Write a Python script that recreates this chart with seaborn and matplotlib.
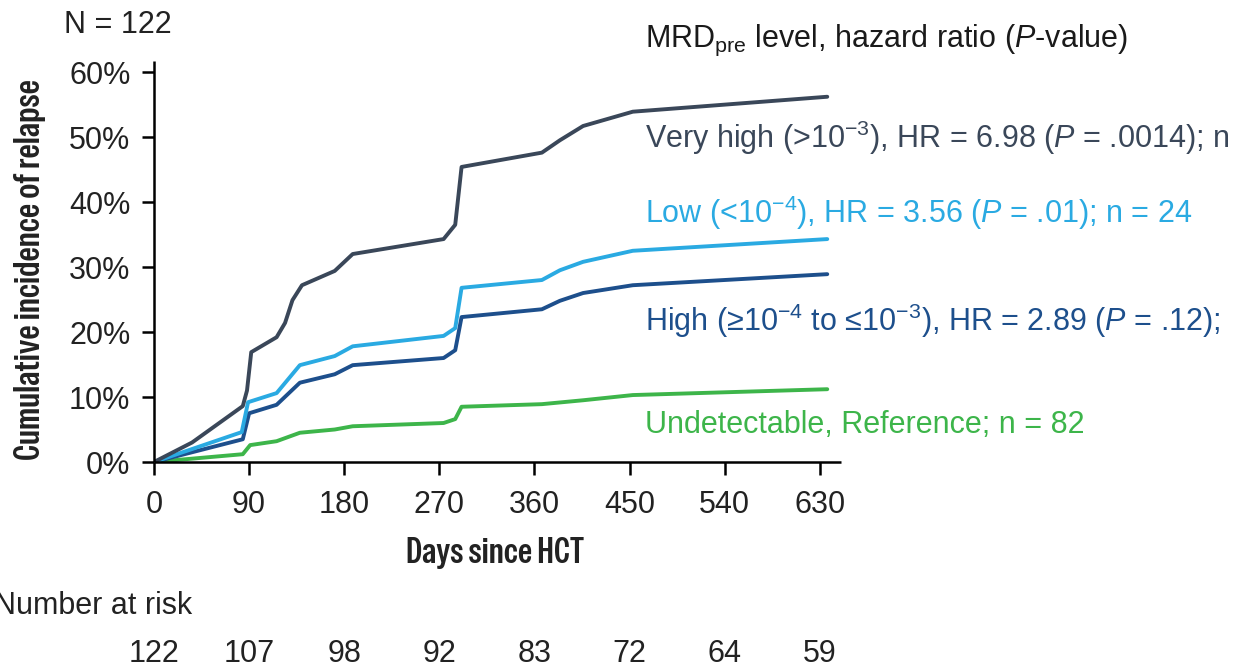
import os
import matplotlib
matplotlib.use("Agg")
import matplotlib.pyplot as plt
import matplotlib.font_manager as fm
from matplotlib.textpath import TextPath
import numpy as np
import pandas as pd
import seaborn as sns

# Cumulative incidence curves (days since HCT, percent relapsed)
days_very_high = [0, 36, 84, 88, 92, 116, 124, 131, 140, 171, 188, 274, 285, 291, 367, 384, 406, 453, 637]
cif_very_high = [0, 3.0, 8.6, 11.0, 16.9, 19.2, 21.4, 24.9, 27.2, 29.4, 32.0, 34.3, 36.5, 45.4, 47.6, 49.5, 51.7, 53.9, 56.2]

days_low = [0, 83, 89, 116, 138, 171, 188, 274, 285, 291, 367, 384, 406, 453, 637]
cif_low = [0, 4.6, 9.2, 10.6, 14.9, 16.3, 17.8, 19.4, 20.6, 26.8, 28.0, 29.5, 30.8, 32.5, 34.3]

days_high = [0, 84, 90, 116, 138, 171, 188, 274, 285, 291, 367, 384, 406, 453, 637]
cif_high = [0, 3.5, 7.5, 8.8, 12.2, 13.5, 14.9, 16.0, 17.2, 22.3, 23.5, 24.8, 26.0, 27.2, 28.9]

days_undetectable = [0, 84, 91, 116, 138, 171, 188, 274, 285, 291, 367, 406, 453, 637]
cif_undetectable = [0, 1.2, 2.6, 3.2, 4.5, 5.0, 5.5, 6.0, 6.6, 8.5, 8.9, 9.5, 10.3, 11.2]

group_names = ["Undetectable", "High", "Low", "Very high"]
group_labels = [
    r"Very high (>10$^{-3}$), HR = 6.98 ($\mathit{P}$ = .0014); n",
    r"Low (<10$^{-4}$), HR = 3.56 ($\mathit{P}$ = .01); n = 24",
    r"High (≥10$^{-4}$ to ≤10$^{-3}$), HR = 2.89 ($\mathit{P}$ = .12);",
    "Undetectable, Reference; n = 82",
]
x_ticks = [0, 90, 180, 270, 360, 450, 540, 630]
y_ticks = [0, 10, 20, 30, 40, 50, 60]
at_risk = [122, 107, 98, 92, 83, 72, 64, 59]

colors = {
    "Very high": "#3a4759",
    "Low": "#2aaae2",
    "High": "#1d4f8c",
    "Undetectable": "#3db54a",
}

frames = []
for name, d, v in [
    ("Undetectable", days_undetectable, cif_undetectable),
    ("High", days_high, cif_high),
    ("Low", days_low, cif_low),
    ("Very high", days_very_high, cif_very_high),
]:
    frames.append(pd.DataFrame({"days": d, "cif": v, "group": name}))
df = pd.concat(frames, ignore_index=True)

sns.set_style("ticks")
base_font = "Liberation Sans"
plt.rcParams["font.family"] = [base_font, "DejaVu Sans"]
plt.rcParams["mathtext.fontset"] = "custom"
plt.rcParams["mathtext.rm"] = base_font
plt.rcParams["mathtext.it"] = base_font + ":italic"
plt.rcParams["mathtext.default"] = "regular"

XLABEL = "Days since HCT"
YLABEL = "Cumulative incidence of relapse"
TITLE_WIDTH_PX = 176      # width of the x-axis title
TITLE_ASPECT = 176 / 25   # title width over cap height
STEM_RATIO = 0.16         # vertical stem width over cap height


def face_metrics(fp):
    """Title width, title aspect and stem weight of a face."""
    w = TextPath((0, 0), XLABEL, size=10, prop=fp).get_extents().width
    h = TextPath((0, 0), "H", size=10, prop=fp).get_extents().height
    stem = TextPath((0, 0), "I", size=10, prop=fp).get_extents().width
    return w / h, stem / h, w


def weight_value(w):
    if isinstance(w, (int, float)):
        return w
    return fm.weight_dict.get(str(w).lower(), 400)


def find_narrow_font():
    """Pick a condensed sans face of ordinary weight for the axis titles."""
    best = None
    for f in fm.fontManager.ttflist:
        name = f.name.lower()
        fname = f.fname.lower()
        base = os.path.basename(fname)
        if fname.endswith((".ttc", ".otc")):
            continue
        narrow = ("condensed" in name or "narrow" in name or "condensed" in base
                  or "narrow" in base
                  or str(f.stretch).lower() in ("condensed", "semi-condensed", "extra-condensed"))
        if not narrow or f.style != "normal":
            continue
        if "mono" in name or "mono" in base:
            continue
        if "serif" in name and "sans" not in name:
            continue
        try:
            fp = fm.FontProperties(fname=f.fname)
            aspect, stem, _ = face_metrics(fp)
        except Exception:
            continue
        score = abs(aspect - TITLE_ASPECT) / TITLE_ASPECT + 1.5 * abs(stem - STEM_RATIO) / STEM_RATIO
        if best is None or score < best[0]:
            best = (score, fp)
    return best[1] if best else fm.FontProperties(family=base_font)


narrow_fp = find_narrow_font()
_, _, w10 = face_metrics(narrow_fp)
label_size = min(26.0, 10 * TITLE_WIDTH_PX / (w10 * 100 / 72))

W, H = 1247, 667
fig = plt.figure(figsize=(W / 100, H / 100), dpi=100)
ax = fig.add_axes([154 / W, 1 - 462 / H, 687 / W, 401 / H])

sns.lineplot(
    data=df, x="days", y="cif", hue="group", hue_order=group_names,
    palette=colors, estimator=None, sort=False, linewidth=2.8,
    legend=False, ax=ax,
)

ax.set_xlim(0, 650)
ax.set_ylim(0, 61.7)
ax.set_xticks(x_ticks)
ax.set_yticks(y_ticks)
ax.set_yticklabels([f"{t}%" for t in y_ticks])
ax.tick_params(axis="both", labelsize=22, length=9, width=1.8, color="black",
               labelcolor="#222222", direction="out")
ax.tick_params(axis="x", pad=11)
ax.tick_params(axis="y", pad=8)
for s in ["top", "right"]:
    ax.spines[s].set_visible(False)
for s in ["left", "bottom"]:
    ax.spines[s].set_linewidth(1.8)
    ax.spines[s].set_color("black")
    ax.spines[s].set_capstyle("butt")

label_kw = dict(fontproperties=narrow_fp, fontsize=label_size)
ax.set_xlabel(XLABEL, color="#222222", **label_kw)
ax.xaxis.set_label_coords(0.496, -0.227)
ax.xaxis.label.set_va("center")
ax.set_ylabel(YLABEL, color="#222222", **label_kw)
ax.yaxis.set_label_coords(-0.181, 0.48)
ax.yaxis.label.set_va("center")

# Sample size and legend header
fig.text(64 / W, 1 - 25 / H, "N = 122", fontsize=22, color="#222222", va="center", ha="left")
fig.text(645 / W, 1 - 40 / H, r"MRD$_{pre}$ level, hazard ratio ($\mathit{P}$-value)", fontsize=22,
         color="#1a1a1a", va="center", ha="left")

# Group annotations beside the curves
label_y = [138, 213, 321, 425]
label_colors = [colors["Very high"], colors["Low"], colors["High"], colors["Undetectable"]]
for txt, yy, c in zip(group_labels, label_y, label_colors):
    fig.text(645 / W, 1 - yy / H, txt, fontsize=22, color=c, va="center", ha="left")

# Number at risk table
fig.text(-6 / W, 1 - 606 / H, "Number at risk", fontsize=22, color="#222222", va="center", ha="left")
for xt, n in zip(x_ticks, at_risk):
    ax.text(xt, -0.478, str(n), transform=ax.get_xaxis_transform(), fontsize=22,
            color="#222222", ha="center", va="center", clip_on=False)

fig.savefig("out.png", dpi=100)
